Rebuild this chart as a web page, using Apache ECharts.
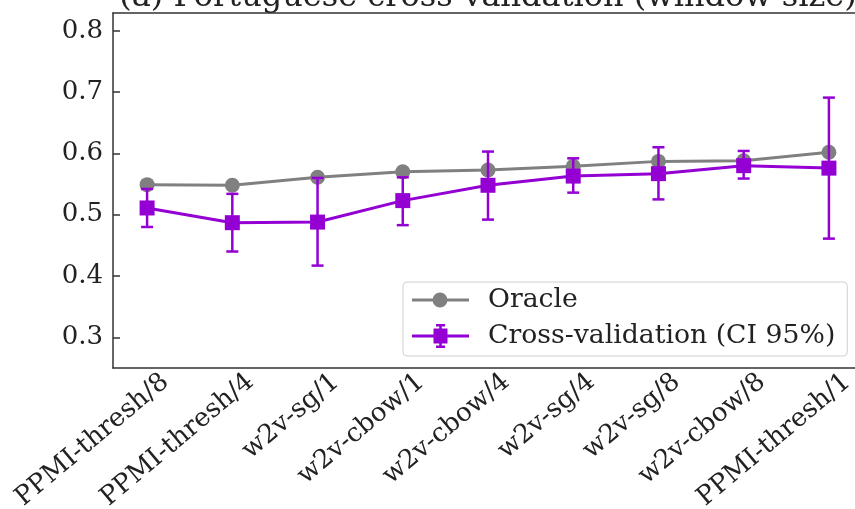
<!DOCTYPE html>
<html>
<head>
<meta charset="utf-8">
<script src="https://cdn.jsdelivr.net/npm/echarts@6/dist/echarts.min.js"></script>
<style>html,body{margin:0;padding:0;background:#fff;}#c{width:855px;height:509px;}</style>
</head>
<body>
<div id="c"></div>
<script>
const categories = ['PPMI-thresh/8','PPMI-thresh/4','w2v-sg/1','w2v-cbow/1','w2v-cbow/4','w2v-sg/4','w2v-sg/8','w2v-cbow/8','PPMI-thresh/1'];
const oracle = [0.549, 0.548, 0.561, 0.570, 0.573, 0.579, 0.587, 0.588, 0.602];
const cvMean = [0.511, 0.487, 0.488, 0.523, 0.548, 0.563, 0.567, 0.580, 0.576];
const cvLow  = [0.480, 0.440, 0.417, 0.483, 0.492, 0.536, 0.525, 0.559, 0.461];
const cvHigh = [0.542, 0.534, 0.560, 0.561, 0.603, 0.592, 0.610, 0.604, 0.691];
const yTicks = [0.3, 0.4, 0.5, 0.6, 0.7, 0.8];
const titleText = '(a) Portuguese cross-validation (window size)';

const FONT = 'DejaVu Serif';
const GRAY = '#808080';
const PURPLE = '#9400D3';
const AXIS = '#333';

const chart = echarts.init(document.getElementById('c'), null, {renderer: 'canvas'});
const idx = categories.map((_, i) => i);

const oracleIcon = 'path://M0 6L57 6L57 9L0 9Z M35.5 7.5A7.5 7.5 0 1 1 20.5 7.5A7.5 7.5 0 1 1 35.5 7.5Z';
const cvIcon = 'path://M0 10.5L57 10.5L57 13.5L0 13.5Z M27.25 0L29.75 0L29.75 24L27.25 24Z M24 0L33 0L33 2.5L24 2.5Z M24 21.5L33 21.5L33 24L24 24Z M21.5 4.5L35.5 4.5L35.5 19.5L21.5 19.5Z';

chart.setOption({
  animation: false,
  backgroundColor: '#fff',
  graphic: [{
    type: 'text', x: 488, y: -18,
    style: {text: titleText, font: '32px "DejaVu Serif"', fill: '#222', align: 'center'}
  }],
  grid: {left: 113, top: 13, width: 750, height: 355, outerBoundsMode: 'none', containLabel: false, show: false},
  legend: {
    orient: 'vertical', left: 403, top: 282,
    padding: [3, 12, 5, 9], itemGap: 6,
    itemWidth: 57, itemHeight: 24,
    backgroundColor: 'rgba(255,255,255,0.85)',
    borderColor: '#d0d0d0', borderWidth: 1, borderRadius: 4,
    textStyle: {fontFamily: FONT, fontSize: 26.7, color: '#222', padding: [0, 0, 0, 14], lineHeight: 30},
    data: [{name: 'Oracle', icon: oracleIcon}, {name: 'Cross-validation (CI 95%)', icon: cvIcon}]
  },
  xAxis: [{
    type: 'value', min: -0.4, max: 8.4, position: 'bottom',
    axisLine: {show: true, onZero: false, lineStyle: {color: AXIS, width: 1.5}},
    axisTick: {show: false}, splitLine: {show: false},
    axisLabel: {
      customValues: idx, rotate: 40, margin: 26, padding: [0, -24, 0, 0],
      fontFamily: FONT, fontSize: 26, color: '#222',
      formatter: v => categories[Math.round(v)] || ''
    }
  }, {
    type: 'value', min: -0.4, max: 8.4, position: 'top',
    axisLine: {show: true, onZero: false, lineStyle: {color: AXIS, width: 1.5}},
    axisTick: {show: false}, axisLabel: {show: false}, splitLine: {show: false}
  }],
  yAxis: {
    type: 'value', min: 0.25, max: 0.829,
    axisLine: {show: true, onZero: false, lineStyle: {color: AXIS, width: 1.5}},
    axisTick: {show: true, inside: true, length: 7, customValues: yTicks, lineStyle: {color: AXIS, width: 1.5}},
    splitLine: {show: false},
    axisLabel: {customValues: yTicks, margin: 10, fontFamily: FONT, fontSize: 26, color: '#222', formatter: v => v.toFixed(1)}
  },
  series: [
    {
      name: 'Oracle', type: 'line', z: 2,
      data: idx.map(i => [i, oracle[i]]),
      symbol: 'circle', symbolSize: 15,
      lineStyle: {color: GRAY, width: 3}, itemStyle: {color: GRAY}
    },
    {
      name: 'Cross-validation (CI 95%)', type: 'line', z: 4,
      data: idx.map(i => [i, cvMean[i]]),
      symbol: 'rect', symbolSize: 15,
      lineStyle: {color: PURPLE, width: 3}, itemStyle: {color: PURPLE}
    },
    {
      name: 'cv-err', type: 'custom', z: 3,
      data: idx.map(i => [i, cvLow[i], cvHigh[i]]),
      encode: {x: 0, y: [1, 2]},
      renderItem: function (params, api) {
        const x = api.value(0);
        const lo = api.coord([x, api.value(1)]);
        const hi = api.coord([x, api.value(2)]);
        const hw = 6;
        const st = {stroke: PURPLE, lineWidth: 2.5};
        return {type: 'group', children: [
          {type: 'line', shape: {x1: lo[0], y1: lo[1], x2: hi[0], y2: hi[1]}, style: st},
          {type: 'line', shape: {x1: lo[0]-hw, y1: lo[1], x2: lo[0]+hw, y2: lo[1]}, style: st},
          {type: 'line', shape: {x1: hi[0]-hw, y1: hi[1], x2: hi[0]+hw, y2: hi[1]}, style: st}
        ]};
      }
    }
  ]
});
</script>
</body>
</html>
